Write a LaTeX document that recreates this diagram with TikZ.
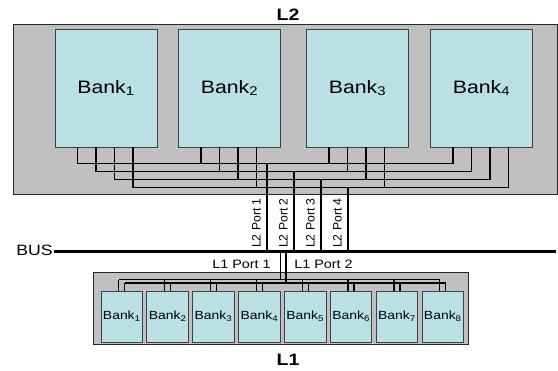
\documentclass[tikz,border=0pt]{standalone}
\usepackage{fontspec}
\setmainfont{Liberation Sans}[FakeStretch=1.18]
\newfontfamily\portfont{Liberation Sans}
\usetikzlibrary{calc}
\definecolor{cachegray}{RGB}{192,192,192}
\definecolor{bankfill}{RGB}{185,224,227}

\begin{document}
\begin{tikzpicture}[x=1pt,y=-1pt,
 cachebox/.style={draw=black!85,fill=cachegray,line width=1pt,inner sep=0pt},
 bigbank/.style={draw=black!75,fill=bankfill,line width=0.9pt,inner sep=0pt,
   minimum width=102pt,minimum height=118pt,font=\fontsize{18}{20}\selectfont},
 smallbank/.style={draw=black!75,fill=bankfill,line width=0.9pt,inner sep=0pt,
   minimum width=41.5pt,minimum height=51pt,font=\fontsize{11.8}{14}\selectfont},
 wire/.style={line width=1.6pt},
 thinwire/.style={line width=1.3pt},
 lbl/.style={font=\fontsize{12.2}{14}\selectfont,inner sep=0pt},
 portlbl/.style={font=\portfont\fontsize{12.2}{14}\selectfont,rotate=90,anchor=base west,inner sep=0pt},
 title/.style={font=\fontsize{16.5}{18}\selectfont\bfseries,inner sep=0pt,anchor=base}]

\useasboundingbox (0,0) rectangle (558,371);

% L2 with its four banks
\node[cachebox,minimum width=544.5pt,minimum height=170pt] (L2box) at (285.25,110) {};
\node[title] (L2) at (288,20.5) {L2};
\foreach \i/\x in {1/106,2/229.5,3/357.5,4/481.5}
  \node[bigbank] (b\i) at (\x,88) {Bank\textsubscript{\i}};

\foreach \j in {1,...,4}{
  \pgfmathsetmacro\off{23+18.5*(\j-1)}
  \pgfmathsetmacro\drop{16+8*(\j-1)}
  \coordinate (h\j) at (0,147+\drop);
  \draw[wire] ($(b1.south west)+(\off,0)$) |- ($(b4.south west)+(\off,\drop)$) -- ($(b4.south west)+(\off,0)$);
  \draw[wire] ($(b2.south west)+(\off,0)$) -- ++(0,\drop);
  \draw[wire] ($(b3.south west)+(\off,0)$) -- ++(0,\drop);
  \coordinate (pt\j) at ({267+27*(\j-1)},252);
  \draw[wire] (pt\j) -- (pt\j |- h\j);
  \node[portlbl] (pl\j) at ($(pt\j)+(-6.5,-4)$) {L2 Port \j};
}

% L1 with its eight banks
\node[cachebox,minimum width=375pt,minimum height=72pt] (L1box) at (280.5,309) {};
\node[title] (L1) at (288,365.5) {L1};
\foreach \i in {1,...,8}
  \node[smallbank] (s\i) at ({121.8+45.86*(\i-1)},316.5) {Bank\textsubscript{\i}};

\coordinate (hA) at (0,280);
\coordinate (hB) at (0,283.5);
\foreach \i in {1,...,8}{
  \draw[thinwire] ($(s\i.north)+(-3,0)$) -- ++(0,-11);
  \draw[thinwire] ($(s\i.north)+(3,0)$) -- ++(0,-7.5);
}
\draw[thinwire] ($(s1.north)+(-3,-11)$) -- ($(s8.north)+(-3,-11)$);
\draw[thinwire] ($(s1.north)+(3,-7.5)$) -- ($(s8.north)+(3,-7.5)$);
\coordinate (q1) at (280.5,252);
\coordinate (q2) at (286,252);
\draw[thinwire] (q1) -- (q1 |- hA);
\draw[thinwire] (q2) -- (q2 |- hB);
\node[lbl,anchor=base] (lp1) at (241.5,269) {L1 Port 1};
\node[lbl,anchor=base] (lp2) at (323.5,269) {L1 Port 2};

% bus
\coordinate (busW) at (54,252);
\coordinate (busE) at (556,252);
\draw[line width=3pt] (busW) -- (busE);
\node[lbl,font=\fontsize{15}{17}\selectfont,anchor=base east] (bus) at (53,255.5) {BUS};
\end{tikzpicture}
\end{document}
